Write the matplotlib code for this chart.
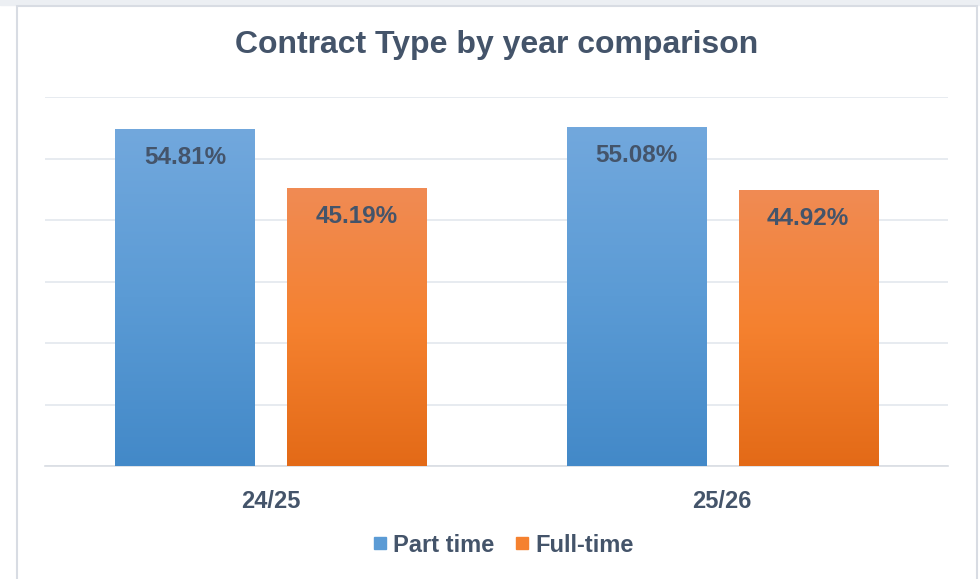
import numpy as np
import matplotlib
matplotlib.use("Agg")
import matplotlib.pyplot as plt
from matplotlib.colors import LinearSegmentedColormap
from matplotlib.patches import Rectangle
from matplotlib.lines import Line2D

years = ["24/25", "25/26"]
part_time = [54.81, 55.08]
full_time = [45.19, 44.92]

TXT = "#44546a"; GRID = "#e3e7ed"
BLUE = ["#4389c8", "#5b9bd5", "#72a8dd"]     # bottom -> top
ORANGE = ["#e36a17", "#f5812f", "#f08b54"]

plt.rcParams["font.family"] = ["Liberation Sans", "DejaVu Sans"]
fig = plt.figure(figsize=(9.8, 5.79), dpi=100)
fig.patch.set_facecolor("white")
# chart frame
fig.add_artist(Rectangle((0, 1 - 5/579), 1, 5/579, transform=fig.transFigure, color="#eceff3", zorder=0))
fig.add_artist(Rectangle((17/980, -0.02), 960/980, 1.02 - 6/579, transform=fig.transFigure,
                         facecolor="white", edgecolor="#d8dce3", lw=1.5, zorder=0))

ax = fig.add_axes([45/980, 1 - 466/579, 903/980, 369/579])
ax.set_facecolor("none")
x = np.arange(len(years))
w = 0.308; off = 0.19

def grad_bars(xs, vals, cols):
    cmap = LinearSegmentedColormap.from_list("g", cols)
    bars = ax.bar(xs, vals, w, color="none", edgecolor="none", zorder=3)
    g = np.linspace(0, 1, 256).reshape(-1, 1)
    for b in bars:
        x0, y0 = b.get_x(), b.get_y()
        im = ax.imshow(g, cmap=cmap, origin="lower", aspect="auto", zorder=3,
                       extent=[x0, x0 + b.get_width(), y0, y0 + b.get_height()])
        im.set_clip_path(b)
    for xi, v in zip(xs, vals):
        ax.text(xi, v - 4.6, f"{v:.2f}%", ha="center", va="center", fontsize=17.5,
                fontweight="bold", color=TXT, zorder=5)
    return bars

grad_bars(x - off, part_time, BLUE)
grad_bars(x + off, full_time, ORANGE)

ax.set_xlim(-0.5, 1.5); ax.set_ylim(0, 60)
ax.set_yticks(np.arange(0, 61, 10))
ax.yaxis.grid(True, color=GRID, lw=1.2, zorder=0)
ax.set_axisbelow(True)
ax.tick_params(axis="y", left=False, labelleft=False)
ax.tick_params(axis="x", length=0, pad=17)
ax.set_xticks(x); ax.set_xticklabels(years, fontsize=17, fontweight="bold", color=TXT)
for s in ["top", "right", "left"]: ax.spines[s].set_visible(False)
ax.spines["bottom"].set_color("#d9dde3"); ax.spines["bottom"].set_linewidth(1.2)

fig.text(497/980, 1 - 45/579, "Contract Type by year comparison", ha="center", va="center",
         fontsize=23, fontweight="bold", color=TXT)

handles = [Line2D([], [], ls="", marker="s", ms=9, color=BLUE[1], label="Part time"),
           Line2D([], [], ls="", marker="s", ms=9, color=ORANGE[1], label="Full-time")]
leg = fig.legend(handles=handles, loc="center", bbox_to_anchor=(502/980, 1 - 545/579), ncol=2,
                 frameon=False, fontsize=17, handletextpad=0.15, columnspacing=0.8, handlelength=0.8)
for t in leg.get_texts(): t.set_color(TXT); t.set_fontweight("bold")

fig.savefig("out.png", dpi=100, facecolor="white")
